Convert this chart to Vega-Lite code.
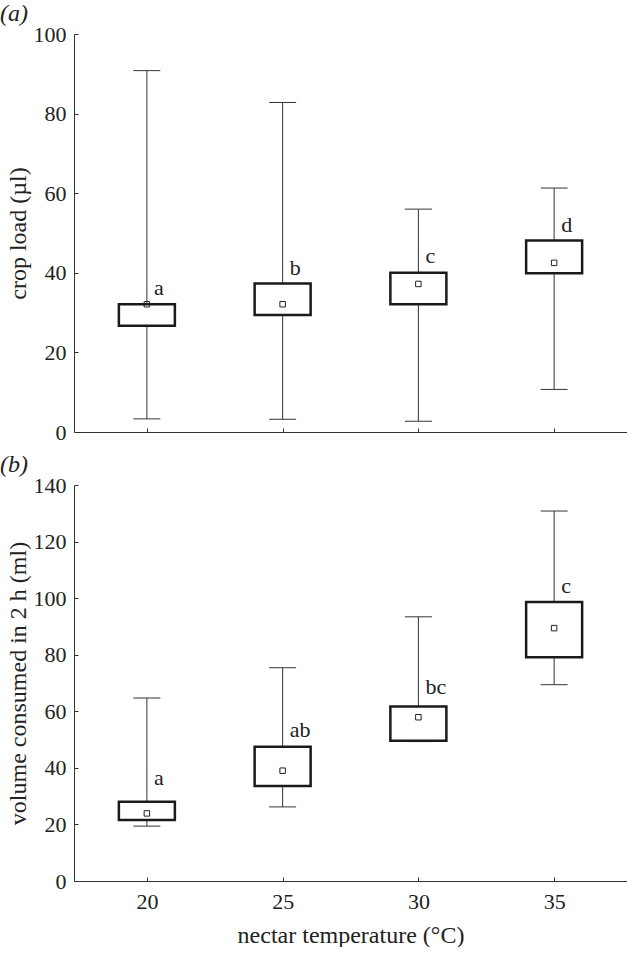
{
  "$schema": "https://vega.github.io/schema/vega-lite/v6.json",
  "padding": {"left": 0, "top": 2, "right": 0, "bottom": 0},
  "background": "white",
  "spacing": 10,
  "config": {
    "view": {"stroke": null},
    "font": "Liberation Serif, Times New Roman, serif",
    "axis": {
      "domainColor": "#333", "tickColor": "#333", "labelColor": "#222", "titleColor": "#222",
      "labelFont": "Liberation Serif, Times New Roman, serif", "titleFont": "Liberation Serif, Times New Roman, serif",
      "labelFontSize": 22, "titleFontSize": 24, "titleFontWeight": "normal",
      "grid": false, "tickSize": -4, "domainWidth": 1, "tickWidth": 1
    },
    "axisY": {"labelPadding": 12, "titlePadding": 3},
    "axisX": {"labelPadding": 14, "titlePadding": 11},
    "title": {"font": "Liberation Serif, Times New Roman, serif", "fontSize": 24, "fontWeight": "normal", "fontStyle": "italic", "anchor": "start", "frame": "bounds", "color": "#222", "offset": -3}
  },
  "datasets": {
    "crop": [
      {"temp": 20, "min": 3.3, "q1": 26.7, "q3": 32.1, "max": 90.8, "mean": 32.1, "letter": "a", "ly": 34.5},
      {"temp": 25, "min": 3.2, "q1": 29.4, "q3": 37.3, "max": 82.8, "mean": 32.1, "letter": "b", "ly": 39.5},
      {"temp": 30, "min": 2.7, "q1": 32.1, "q3": 40.0, "max": 56.0, "mean": 37.2, "letter": "c", "ly": 42.4},
      {"temp": 35, "min": 10.7, "q1": 39.9, "q3": 48.1, "max": 61.3, "mean": 42.5, "letter": "d", "ly": 50.2}
    ],
    "volume": [
      {"temp": 20, "min": 19.4, "q1": 21.6, "q3": 28.0, "max": 64.7, "mean": 23.9, "letter": "a", "ly": 33.9},
      {"temp": 25, "min": 26.2, "q1": 33.6, "q3": 47.5, "max": 75.4, "mean": 39.0, "letter": "ab", "ly": 51.0},
      {"temp": 30, "min": 49.3, "q1": 49.6, "q3": 61.7, "max": 93.4, "mean": 57.9, "letter": "bc", "ly": 66.1},
      {"temp": 35, "min": 69.4, "q1": 79.1, "q3": 98.6, "max": 130.8, "mean": 89.4, "letter": "c", "ly": 101.9}
    ]
  },
  "vconcat": [
    {
      "width": 553, "height": 398,
      "title": {"text": "(a)", "dx": -6},
      "data": {"name": "crop"},
      "encoding": {
        "x": {"field": "temp", "type": "quantitative",
              "scale": {"domain": [17.5, 37.5], "nice": false, "zero": false},
              "axis": {"values": [20, 25, 30, 35], "labels": false, "title": null}}
      },
      "layer": [
        {"mark": {"type": "rule", "color": "#333", "strokeWidth": 1},
         "encoding": {
           "y": {"field": "min", "type": "quantitative",
                 "scale": {"domain": [0, 100], "nice": false},
                 "axis": {"values": [0, 20, 40, 60, 80, 100], "title": "crop load (µl)"}},
           "y2": {"field": "max"}}},
        {"mark": {"type": "tick", "orient": "horizontal", "size": 27, "thickness": 1, "color": "#333", "opacity": 1},
         "encoding": {"y": {"field": "min", "type": "quantitative"}}},
        {"mark": {"type": "tick", "orient": "horizontal", "size": 27, "thickness": 1, "color": "#333", "opacity": 1},
         "encoding": {"y": {"field": "max", "type": "quantitative"}}},
        {"mark": {"type": "bar", "size": 56, "fill": "white", "stroke": "#1a1a1a", "strokeWidth": 2.5},
         "encoding": {"y": {"field": "q1", "type": "quantitative"}, "y2": {"field": "q3"}}},
        {"mark": {"type": "point", "shape": "square", "size": 30, "filled": false, "stroke": "#222", "strokeWidth": 1, "opacity": 1},
         "encoding": {"y": {"field": "mean", "type": "quantitative"}}},
        {"mark": {"type": "text", "align": "left", "baseline": "alphabetic", "dx": 7, "fontSize": 22, "font": "Liberation Serif, Times New Roman, serif", "color": "#222"},
         "encoding": {"y": {"field": "ly", "type": "quantitative"}, "text": {"field": "letter"}}}
      ]
    },
    {
      "width": 553, "height": 396,
      "title": {"text": "(b)", "dx": -6},
      "data": {"name": "volume"},
      "encoding": {
        "x": {"field": "temp", "type": "quantitative",
              "scale": {"domain": [17.5, 37.5], "nice": false, "zero": false},
              "axis": {"values": [20, 25, 30, 35], "title": "nectar temperature (°C)"}}
      },
      "layer": [
        {"mark": {"type": "rule", "color": "#333", "strokeWidth": 1},
         "encoding": {
           "y": {"field": "min", "type": "quantitative",
                 "scale": {"domain": [0, 140], "nice": false},
                 "axis": {"values": [0, 20, 40, 60, 80, 100, 120, 140], "title": "volume consumed in 2 h (ml)"}},
           "y2": {"field": "max"}}},
        {"mark": {"type": "tick", "orient": "horizontal", "size": 27, "thickness": 1, "color": "#333", "opacity": 1},
         "encoding": {"y": {"field": "min", "type": "quantitative"}}},
        {"mark": {"type": "tick", "orient": "horizontal", "size": 27, "thickness": 1, "color": "#333", "opacity": 1},
         "encoding": {"y": {"field": "max", "type": "quantitative"}}},
        {"mark": {"type": "bar", "size": 56, "fill": "white", "stroke": "#1a1a1a", "strokeWidth": 2.5},
         "encoding": {"y": {"field": "q1", "type": "quantitative"}, "y2": {"field": "q3"}}},
        {"mark": {"type": "point", "shape": "square", "size": 30, "filled": false, "stroke": "#222", "strokeWidth": 1, "opacity": 1},
         "encoding": {"y": {"field": "mean", "type": "quantitative"}}},
        {"mark": {"type": "text", "align": "left", "baseline": "alphabetic", "dx": 7, "fontSize": 22, "font": "Liberation Serif, Times New Roman, serif", "color": "#222"},
         "encoding": {"y": {"field": "ly", "type": "quantitative"}, "text": {"field": "letter"}}}
      ]
    }
  ]
}
